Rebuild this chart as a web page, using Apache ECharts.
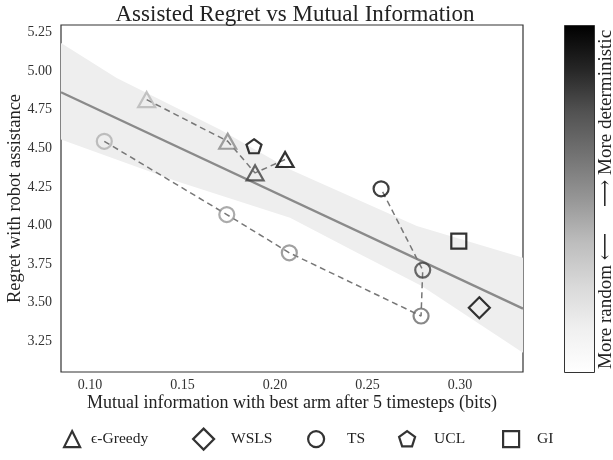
<!DOCTYPE html>
<html><head><meta charset="utf-8">
<script src="https://cdn.jsdelivr.net/npm/echarts@6/dist/echarts.min.js"></script>
<style>html,body{margin:0;padding:0;background:#fff}#c{width:613px;height:460px}</style>
</head><body><div id="c"></div>
<script>
// ---- data ----
const xTicks = [0.10, 0.15, 0.20, 0.25, 0.30];
const yTicks = [3.25, 3.50, 3.75, 4.00, 4.25, 4.50, 4.75, 5.00, 5.25];

// epsilon-greedy (triangles), connected in order; level = position on the colour bar (0 random .. 1 deterministic)
const greedyX = [0.1306, 0.1744, 0.1892, 0.2054];
const greedyY = [4.816, 4.546, 4.341, 4.428];
const greedyLevel = [0.40, 0.55, 0.80, 1.0];

// Thompson sampling (circles), connected in order
const tsX = [0.1077, 0.1739, 0.2077, 0.2789, 0.2798, 0.2573];
const tsY = [4.546, 4.071, 3.823, 3.413, 3.711, 4.238];
const tsLevel = [0.42, 0.50, 0.55, 0.66, 0.79, 0.95];

const wslsX = [0.3104], wslsY = [3.467], wslsLevel = [1.0];
const uclX = [0.1886], uclY = [4.514], uclLevel = [1.0];
const giX = [0.2993], giY = [3.899], giLevel = [1.0];

// regression fit and confidence band
const fitX = [0.0843, 0.334];
const fitY = [4.864, 3.461];
const bandUpperX = [0.0843, 0.1144, 0.1702, 0.2081, 0.2766, 0.334];
const bandUpperY = [5.183, 4.957, 4.622, 4.363, 3.996, 3.791];
const bandLowerX = [0.0843, 0.1468, 0.2081, 0.2441, 0.2793, 0.334];
const bandLowerY = [4.557, 4.287, 4.050, 3.825, 3.607, 3.175];

const legendNames = ['ϵ-Greedy', 'WSLS', 'TS', 'UCL', 'GI'];
const colorbarLow = 'More random ⟵';
const colorbarHigh = '⟶ More deterministic';

// ---- rendering ----
const FONT = '"Liberation Serif", "DejaVu Serif", serif';
const PENTA = 'path://M50,0 L97.55,34.55 L79.39,90.45 L20.61,90.45 L2.45,34.55 Z';
// "Greys" colour map stops
const GREYS = [255, 240, 217, 189, 150, 115, 82, 37, 0];
function grey(level) {
  const t = Math.max(0, Math.min(1, level)) * (GREYS.length - 1);
  const i = Math.min(GREYS.length - 2, Math.floor(t));
  const v = Math.round(GREYS[i] + (GREYS[i + 1] - GREYS[i]) * (t - i));
  return 'rgb(' + v + ',' + v + ',' + v + ')';
}
function pts(xs, ys) { return xs.map((x, i) => [x, ys[i]]); }
function markers(xs, ys, lv) {
  return xs.map((x, i) => ({
    value: [x, ys[i]],
    itemStyle: { color: 'rgba(0,0,0,0)', borderColor: grey(lv[i]), borderWidth: 2.2 }
  }));
}
const hollow = { color: 'rgba(0,0,0,0)', borderColor: '#000', borderWidth: 2.2 };
const dash = { color: '#777', width: 1.5, type: [6, 4] };

// one legend block per entry: [name index, icon, left, icon size, text offset]
const legendLayout = [
  [0, 'triangle', 63, 16, 6],
  [1, 'diamond', 192, 21, 12],
  [2, 'circle', 307, 16, 18],
  [3, PENTA, 398, 16, 14],
  [4, 'rect', 502, 16, 13]
];
const legends = legendLayout.map(([i, icon, left, sz, pad]) => ({
  left: left, top: 438 - sz / 2, padding: 0, itemWidth: sz, itemHeight: sz,
  textStyle: { fontFamily: FONT, fontSize: 15.5, color: '#222', padding: [0, 0, 0, pad] },
  data: [{ name: legendNames[i], icon: icon, itemStyle: hollow }]
}));

const barStops = [];
for (let k = 0; k < GREYS.length; k++) {
  const lv = 1 - k / (GREYS.length - 1);
  barStops.push({ offset: k / (GREYS.length - 1), color: grey(lv) });
}

const chart = echarts.init(document.getElementById('c'), null, { renderer: 'canvas' });
chart.setOption({
  animation: false,
  textStyle: { fontFamily: FONT },
  title: {
    text: 'Assisted Regret vs Mutual Information',
    left: 290, textAlign: 'center', top: -2,
    textStyle: { fontFamily: FONT, fontSize: 23, fontWeight: 'normal', color: '#222' }
  },
  grid: { left: 61, top: 25, width: 462, height: 347, outerBoundsMode: 'none', containLabel: false,
          show: true, borderColor: '#333', borderWidth: 1.2, backgroundColor: 'transparent' },
  xAxis: {
    type: 'value', min: 0.0843, max: 0.334,
    name: 'Mutual information with best arm after 5 timesteps (bits)',
    nameLocation: 'middle', nameGap: 22, nameMoveOverlap: false,
    nameTextStyle: { fontFamily: FONT, fontSize: 18, color: '#222' },
    axisLine: { show: false }, axisTick: { show: false }, splitLine: { show: false },
    axisLabel: { customValues: xTicks, formatter: v => v.toFixed(2), fontFamily: FONT, fontSize: 14, color: '#333', margin: 6 }
  },
  yAxis: {
    type: 'value', min: 3.05, max: 5.30,
    name: 'Regret with robot assistance',
    nameLocation: 'middle', nameGap: 36, nameRotate: 90, nameMoveOverlap: false,
    nameTextStyle: { fontFamily: FONT, fontSize: 18.5, color: '#222' },
    axisLine: { show: false }, axisTick: { show: false }, splitLine: { show: false },
    axisLabel: { customValues: yTicks, formatter: v => v.toFixed(2), fontFamily: FONT, fontSize: 14, color: '#333', margin: 9 }
  },
  legend: legends,
  graphic: [
    {
      type: 'rect', left: 564, top: 25, z: 10,
      shape: { width: 30, height: 347 },
      style: {
        fill: new echarts.graphic.LinearGradient(0, 0, 0, 1, barStops),
        stroke: '#333', lineWidth: 1
      }
    },
    {
      type: 'text', x: 606, y: 207, rotation: Math.PI / 2, z: 10,
      style: { text: colorbarHigh, font: '19px ' + FONT, fill: '#222', align: 'left', verticalAlign: 'middle' }
    },
    {
      type: 'text', x: 606, y: 233, rotation: Math.PI / 2, z: 10,
      style: { text: colorbarLow, font: '19px ' + FONT, fill: '#222', align: 'right', verticalAlign: 'middle' }
    }
  ],
  series: [
    {
      type: 'custom', silent: true, z: 1,
      data: [[fitX[0], fitY[0]]],
      renderItem: function (params, api) {
        const p = [];
        for (let i = 0; i < bandUpperX.length; i++) p.push(api.coord([bandUpperX[i], bandUpperY[i]]));
        for (let i = bandLowerX.length - 1; i >= 0; i--) p.push(api.coord([bandLowerX[i], bandLowerY[i]]));
        return { type: 'polygon', shape: { points: p }, style: { fill: '#eeeeee' } };
      }
    },
    { type: 'line', z: 2, data: pts(fitX, fitY), symbol: 'none', lineStyle: { color: '#8a8a8a', width: 2.3 } },
    { type: 'line', z: 3, data: pts(greedyX, greedyY), symbol: 'none', lineStyle: dash },
    { type: 'line', z: 3, data: pts(tsX, tsY), symbol: 'none', lineStyle: dash },
    { name: legendNames[0], type: 'scatter', z: 5, symbol: 'triangle', symbolSize: [17, 15], data: markers(greedyX, greedyY, greedyLevel) },
    { name: legendNames[1], type: 'scatter', z: 5, symbol: 'diamond', symbolSize: 21, data: markers(wslsX, wslsY, wslsLevel) },
    { name: legendNames[2], type: 'scatter', z: 5, symbol: 'circle', symbolSize: 15, data: markers(tsX, tsY, tsLevel) },
    { name: legendNames[3], type: 'scatter', z: 5, symbol: PENTA, symbolSize: [15, 14], data: markers(uclX, uclY, uclLevel) },
    { name: legendNames[4], type: 'scatter', z: 5, symbol: 'rect', symbolSize: 15, data: markers(giX, giY, giLevel) }
  ]
});
</script></body></html>
